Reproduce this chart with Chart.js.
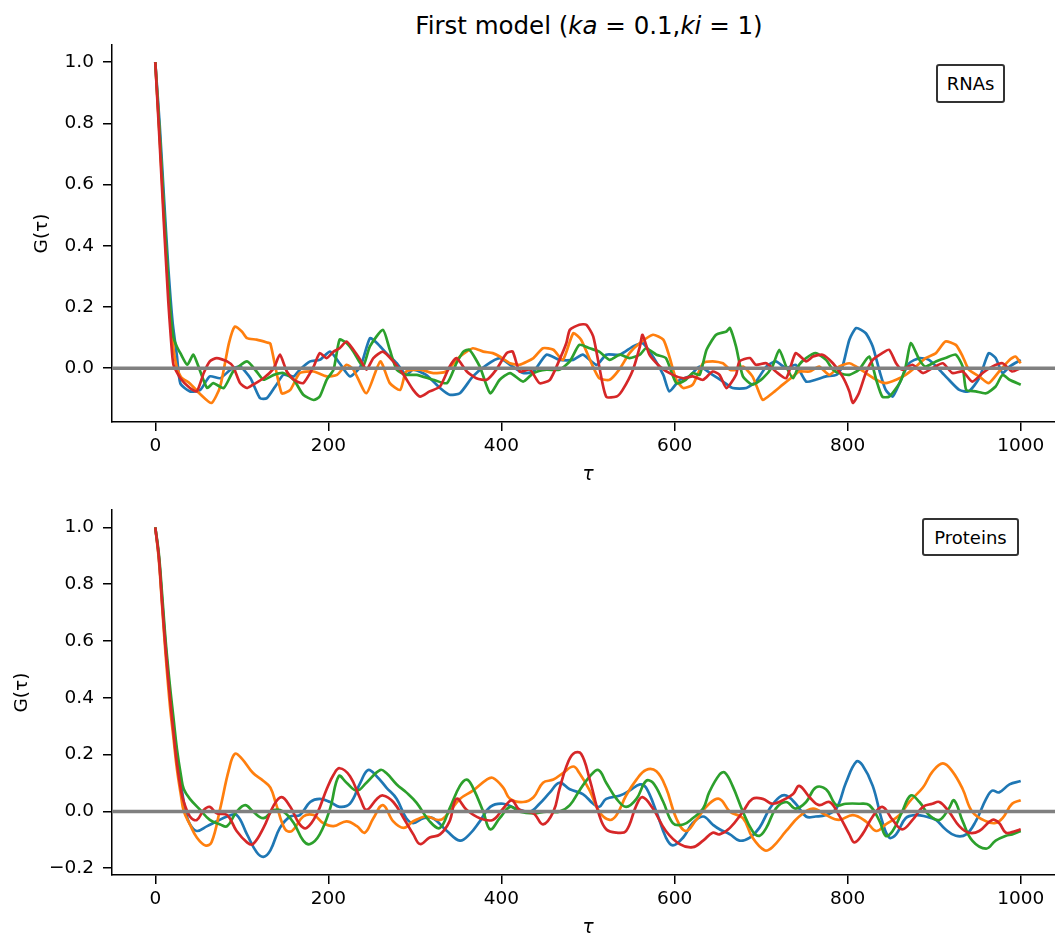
<!DOCTYPE html>
<html><head><meta charset="utf-8">
<script src="https://cdn.jsdelivr.net/npm/chart.js@4.4.1/dist/chart.umd.min.js"></script>
<style>
html,body{margin:0;padding:0;background:#fff;overflow:hidden;}
#wrap{position:relative;width:1055px;height:935px;overflow:hidden;background:#fff;}
canvas{position:absolute;left:0;}
#title{position:absolute;top:11px;left:0;width:1178px;text-align:center;font-family:"DejaVu Sans";font-size:24.5px;color:#000;white-space:nowrap;}
#title i{font-style:italic;}
.leg{position:absolute;box-sizing:border-box;border:2px solid #333;border-radius:3px;background:#fff;font-family:"DejaVu Sans";font-size:18px;color:#000;display:flex;align-items:center;justify-content:center;}
</style></head>
<body><div id="wrap">
<div id="title">First model (<i>ka</i> = 0.1,<i>ki</i> = 1)</div>
<canvas id="c1" width="1080" height="490" style="top:0"></canvas>
<canvas id="c2" width="1080" height="453" style="top:490px"></canvas>
<div class="leg" style="left:936px;top:64px;width:69px;height:39px;">RNAs</div>
<div class="leg" style="left:922px;top:518px;width:97px;height:38px;">Proteins</div>
</div>
<script>
// ---- data: RNAs (top panel) ----
const rnaBlueTau = [0,5,10,15,20,25,29,40,52,63,75,87,98,110,121,129,140,148,160,167,179,190,202,213,225,237,248,256,267,279,290,298,313,329,340,352,367,383,398,410,425,437,452,467,483,494,510,521,537,552,563,575,587,594,606,617,629,644,656,667,683,694,706,717,729,740,752,763,775,787,794,802,810,821,829,837,844,852,860,871,883,894,906,917,929,940,952,963,971,979,987,1000];
const rnaBlue = [1.0,0.8,0.56,0.33,0.15,0.04,-0.05,-0.076,-0.071,-0.027,-0.033,-0.005,0.005,-0.033,-0.098,-0.098,-0.054,-0.022,-0.027,-0.005,0.022,0.027,0.054,0.016,-0.027,0.005,0.098,0.082,0.049,0.016,-0.022,-0.005,-0.022,-0.065,-0.087,-0.082,-0.027,0.011,0.033,0.011,-0.016,-0.011,0.044,0.027,0.027,0.044,0.011,0.044,0.044,0.071,0.082,0.038,-0.022,-0.076,-0.038,-0.027,0.005,-0.022,-0.044,-0.065,-0.065,-0.044,0.005,0.022,0.0,0.011,-0.044,-0.038,-0.027,-0.022,0.005,0.093,0.131,0.114,0.071,-0.011,-0.071,-0.093,-0.049,0.016,0.033,0.027,-0.005,-0.038,-0.071,-0.076,-0.033,0.049,0.033,-0.016,0.005,0.027];
const rnaOrangeTau = [0,5,10,15,20,25,30,40,52,65,75,85,92,100,106,117,129,133,146,156,167,183,198,210,221,229,244,260,271,283,290,306,321,336,352,367,379,390,398,410,421,437,448,460,471,483,492,504,513,525,536,548,560,575,587,594,602,610,621,633,644,656,664,671,679,690,698,702,713,725,737,744,756,767,779,790,802,810,821,833,844,856,867,879,890,902,913,925,933,940,952,963,975,987,994,1000];
const rnaOrange = [1.0,0.76,0.5,0.26,0.09,0.0,-0.03,-0.05,-0.085,-0.114,-0.06,0.08,0.136,0.12,0.098,0.093,0.084,0.08,-0.082,-0.071,-0.016,-0.011,-0.027,-0.022,0.011,-0.005,-0.082,0.022,-0.049,-0.071,-0.011,-0.005,-0.016,-0.011,0.038,0.065,0.054,0.049,0.038,0.016,0.011,0.033,0.065,0.06,0.027,0.114,0.093,0.016,-0.033,-0.038,-0.005,0.049,0.082,0.109,0.093,0.038,-0.038,-0.065,-0.054,0.016,0.022,0.016,-0.005,-0.005,0.005,-0.027,-0.082,-0.104,-0.082,-0.054,-0.027,-0.011,-0.011,0.005,-0.022,0.005,0.016,0.005,-0.016,-0.038,-0.049,-0.038,-0.022,0.005,0.033,0.049,0.087,0.076,0.038,-0.005,-0.027,-0.049,-0.011,0.027,0.038,0.016];
const rnaGreenTau = [0,5,10,15,18,21,25,29,37,44,52,60,67,79,90,106,117,125,137,148,160,171,183,190,198,206,213,221,229,240,248,263,271,279,290,302,321,337,348,356,363,375,387,398,410,425,437,452,467,479,490,502,513,525,537,548,560,567,579,590,602,613,621,629,637,648,660,664,671,679,690,702,713,721,729,737,744,752,763,775,783,790,802,813,825,833,840,848,860,867,873,883,890,902,913,925,933,937,948,960,971,979,987,1000];
const rnaGreen = [1.0,0.77,0.52,0.29,0.17,0.1,0.07,0.049,0.011,0.044,-0.011,-0.065,-0.049,-0.065,-0.011,0.022,-0.011,-0.038,-0.022,-0.016,-0.038,-0.087,-0.104,-0.093,-0.038,-0.005,0.093,0.082,0.054,0.005,0.071,0.125,0.06,-0.005,-0.022,-0.022,-0.038,-0.049,0.016,0.054,0.06,0.005,-0.082,-0.038,-0.016,-0.044,-0.016,-0.005,-0.005,0.022,0.076,0.065,0.054,0.027,0.044,0.033,0.044,0.065,0.044,0.033,-0.049,-0.038,-0.016,-0.022,0.06,0.109,0.12,0.131,0.071,-0.027,-0.054,-0.033,0.005,0.06,0.005,-0.033,0.011,0.033,0.049,0.027,-0.005,-0.016,-0.022,-0.005,0.038,-0.038,-0.093,-0.093,-0.049,0.005,0.082,0.027,0.005,0.022,0.033,0.044,0.005,-0.071,-0.076,-0.082,-0.06,-0.022,-0.038,-0.054];
const rnaRedTau = [0,5,10,15,18,21,29,40,48,56,63,71,83,90,98,106,113,125,137,144,152,160,171,183,190,198,206,213,221,229,237,244,252,263,275,287,298,306,317,329,340,348,360,371,383,394,406,413,421,433,444,456,467,475,479,490,498,506,513,521,533,540,552,560,563,571,583,598,610,621,633,644,652,660,671,675,687,694,706,717,729,740,752,760,771,783,794,802,806,813,821,829,840,848,856,863,875,887,898,910,921,933,944,956,967,979,990,1000];
const rnaRed = [1.0,0.74,0.47,0.22,0.1,0.011,-0.033,-0.065,-0.076,-0.016,0.022,0.033,0.022,0.005,-0.049,-0.065,-0.054,-0.033,0.0,0.044,-0.011,-0.038,-0.049,0.005,0.049,0.033,0.054,0.065,0.087,0.06,0.027,-0.005,0.033,0.054,0.022,-0.022,-0.071,-0.093,-0.076,-0.06,0.005,0.033,-0.011,-0.033,-0.038,-0.005,0.049,0.054,-0.011,-0.005,-0.049,-0.038,0.027,0.082,0.125,0.142,0.142,0.104,0.005,-0.093,-0.093,-0.071,-0.005,0.071,0.109,0.044,0.005,-0.022,-0.033,-0.027,-0.038,-0.011,-0.022,-0.065,-0.022,0.022,0.033,0.011,0.016,-0.011,-0.033,0.049,0.022,0.038,0.044,0.016,-0.027,-0.076,-0.114,-0.082,-0.016,0.027,0.049,0.06,0.016,-0.005,0.011,-0.016,0.0,0.016,-0.016,-0.011,-0.044,-0.016,0.005,0.016,-0.011,0.0];

// ---- data: Proteins (bottom panel) ----
const proBlueTau = [0,4,8,12,17,21,25,30,35,40,48,60,71,83,94,106,117,125,133,144,156,167,179,190,202,213,225,237,246,256,267,279,290,298,310,321,337,352,363,375,387,402,417,433,444,456,467,479,494,506,513,521,537,548,560,567,579,590,598,610,621,633,644,652,664,675,687,698,710,721,729,740,752,763,775,787,798,810,817,829,840,848,856,867,879,890,902,913,925,937,948,960,967,975,987,1000];
const proBlue = [1.0,0.9,0.74,0.58,0.41,0.3,0.2,0.09,0.0,-0.045,-0.069,-0.052,-0.035,-0.018,-0.013,-0.081,-0.143,-0.16,-0.137,-0.058,-0.018,-0.013,0.033,0.044,0.033,0.016,0.027,0.101,0.146,0.123,0.084,0.044,-0.024,-0.041,-0.024,-0.024,-0.069,-0.103,-0.081,-0.035,0.016,0.027,0.01,-0.001,0.027,0.067,0.101,0.078,0.061,0.027,0.016,0.044,0.056,0.073,0.095,0.084,-0.001,-0.092,-0.12,-0.092,-0.041,-0.018,-0.046,-0.063,-0.081,-0.103,-0.092,-0.058,0.01,0.05,0.056,0.027,-0.018,-0.018,-0.013,0.01,0.101,0.175,0.163,0.09,-0.035,-0.092,-0.081,-0.024,-0.013,-0.018,-0.03,-0.063,-0.086,-0.081,-0.035,0.044,0.073,0.067,0.095,0.107];
const proOrangeTau = [0,4,8,12,17,21,25,30,33,40,48,58,65,75,85,92,100,113,125,133,140,150,158,171,183,194,206,221,233,242,252,263,275,287,298,313,329,340,352,367,383,390,402,410,425,437,448,460,471,483,490,502,513,525,533,544,556,567,579,590,602,613,625,640,652,664,679,690,704,713,729,744,760,775,790,806,821,833,844,860,871,887,898,910,921,933,944,960,971,979,990,1000];
const proOrange = [1.0,0.89,0.72,0.55,0.37,0.26,0.15,0.05,0.0,-0.046,-0.092,-0.12,-0.109,0.01,0.146,0.203,0.186,0.135,0.107,0.084,0.022,-0.063,-0.069,-0.018,-0.013,-0.041,-0.052,-0.035,-0.052,-0.075,-0.024,0.022,-0.035,-0.058,-0.035,-0.018,-0.03,-0.001,0.044,0.073,0.112,0.118,0.084,0.044,0.033,0.05,0.101,0.112,0.135,0.158,0.135,0.073,-0.001,-0.03,-0.013,0.056,0.112,0.146,0.141,0.084,-0.024,-0.069,-0.03,0.027,0.044,-0.001,-0.024,-0.092,-0.137,-0.126,-0.069,-0.018,0.01,-0.013,-0.03,-0.013,-0.035,-0.069,-0.046,-0.013,0.033,0.084,0.14,0.169,0.141,0.078,-0.001,-0.035,-0.041,-0.024,0.027,0.039];
const proGreenTau = [0,4,8,12,17,21,25,30,33,40,52,63,75,83,94,104,113,125,137,148,160,171,179,190,202,212,221,233,244,260,267,279,290,302,317,329,340,352,360,367,379,387,398,410,421,437,452,467,479,490,502,512,521,533,544,556,567,575,587,598,610,621,633,640,652,658,667,679,690,698,706,717,729,740,752,763,775,787,798,813,825,837,844,852,863,873,883,894,906,917,923,933,944,960,971,983,990,1000];
const proGreen = [1.0,0.91,0.76,0.6,0.44,0.33,0.22,0.12,0.078,0.044,0.005,-0.03,-0.046,-0.052,-0.001,0.022,-0.001,-0.024,0.005,-0.001,-0.041,-0.103,-0.115,-0.081,0.01,0.124,0.101,0.073,0.101,0.146,0.135,0.095,0.067,0.03,-0.035,-0.058,0.01,0.09,0.112,0.084,-0.001,-0.063,-0.024,0.016,-0.001,-0.007,-0.001,-0.001,0.022,0.073,0.123,0.146,0.101,0.044,0.016,0.044,0.107,0.101,0.033,-0.041,-0.046,-0.024,0.01,0.067,0.13,0.137,0.09,-0.001,-0.069,-0.086,-0.058,0.01,0.033,0.01,0.033,0.084,0.078,0.022,0.027,0.027,0.022,-0.035,-0.086,-0.069,-0.001,0.056,0.033,-0.013,-0.03,0.01,0.039,-0.035,-0.103,-0.131,-0.103,-0.086,-0.081,-0.069];
const proRedTau = [0,4,8,12,17,21,25,30,33,40,48,56,63,71,83,94,106,113,125,137,146,156,167,175,187,198,206,213,225,237,244,256,263,275,287,298,306,317,329,340,348,360,375,390,402,412,421,437,448,460,467,475,483,492,502,513,521,533,544,556,563,575,590,606,621,633,644,652,664,679,690,702,713,725,737,744,756,767,779,790,802,808,817,829,840,852,863,875,887,898,906,917,929,940,952,967,975,983,994,1000];
const proRed = [1.0,0.9,0.73,0.57,0.4,0.28,0.17,0.07,0.033,-0.018,-0.03,0.005,0.016,-0.007,-0.013,-0.069,-0.109,-0.115,-0.058,0.022,0.05,0.016,-0.046,-0.058,-0.007,0.078,0.129,0.152,0.124,0.044,0.005,0.044,0.056,0.033,-0.024,-0.08,-0.115,-0.092,-0.081,-0.035,0.044,0.005,-0.024,-0.03,0.01,0.039,0.005,-0.007,-0.046,-0.001,0.078,0.158,0.203,0.203,0.112,-0.013,-0.063,-0.075,-0.069,0.022,0.05,0.01,-0.069,-0.115,-0.126,-0.103,-0.075,-0.081,-0.058,-0.001,0.044,0.044,0.027,0.039,0.061,0.09,0.05,0.022,0.033,-0.013,-0.081,-0.109,-0.081,-0.018,0.016,-0.03,-0.063,-0.03,0.016,0.027,0.033,-0.001,-0.052,-0.075,-0.069,-0.03,-0.041,-0.075,-0.069,-0.063];

// ---- axes ----
const tauRange = [-50, 1050];
const xTicks = [0, 200, 400, 600, 800, 1000];
const yRangeTop = [-0.176, 1.056];
const yTicksTop = [0.0, 0.2, 0.4, 0.6, 0.8, 1.0];
const yRangeBottom = [-0.224, 1.061];
const yTicksBottom = [-0.2, 0.0, 0.2, 0.4, 0.6, 0.8, 1.0];
const colors = {blue:'#1f77b4', orange:'#ff7f0e', green:'#2ca02c', red:'#d62728', zero:'#808080'};

const pts = (t, v) => t.map((x, i) => ({x: x, y: v[i]}));
const FONT = '"DejaVu Sans"';
const fmt = v => (v < 0 ? '\u2212' : '') + Math.abs(v).toFixed(1);

function build(id, series, yRange, yTicks, padLeft, padTop, yWidth, tension) {
  const ds = [
    {data: pts(tauRange, [0, 0]), borderColor: colors.zero, borderWidth: 3.5, order: 0, tension: 0},
    {data: pts(series[3][0], series[3][1]), borderColor: colors.red, order: 1},
    {data: pts(series[2][0], series[2][1]), borderColor: colors.green, order: 2},
    {data: pts(series[1][0], series[1][1]), borderColor: colors.orange, order: 3},
    {data: pts(series[0][0], series[0][1]), borderColor: colors.blue, order: 4}
  ];
  ds.forEach((d, i) => { d.pointRadius = 0; d.fill = false; if (i > 0) { d.borderWidth = 2.7; d.tension = tension; } });
  const tickFont = {family: FONT, size: 18.5};
  return new Chart(document.getElementById(id), {
    type: 'line',
    data: {datasets: ds},
    options: {
      responsive: false, animation: false, devicePixelRatio: 1,
      layout: {padding: {left: padLeft, top: padTop, right: 16, bottom: 0}},
      plugins: {legend: {display: false}, tooltip: {enabled: false}, title: {display: false}},
      scales: {
        x: {
          type: 'linear', min: tauRange[0], max: tauRange[1],
          afterBuildTicks: s => { s.ticks = xTicks.map(v => ({value: v})); },
          afterFit: s => { s.height = 68; },
          ticks: {font: tickFont, color: '#000', padding: 4, maxRotation: 0, autoSkip: false, callback: v => String(v)},
          grid: {drawOnChartArea: false, drawTicks: true, tickLength: 9, color: '#000', lineWidth: 1.5},
          border: {display: true, color: '#000', width: 1.5},
          title: {display: true, text: '\u03C4', color: '#000', font: {family: FONT, size: 18.5, style: 'italic'}, padding: {top: 4, bottom: 4}}
        },
        y: {
          type: 'linear', min: yRange[0], max: yRange[1],
          afterBuildTicks: s => { s.ticks = yTicks.map(v => ({value: v})); },
          afterFit: s => { s.width = yWidth; },
          ticks: {font: tickFont, color: '#000', padding: 9, callback: fmt},
          grid: {drawOnChartArea: false, drawTicks: true, tickLength: 9, color: '#000', lineWidth: 1.5},
          border: {display: true, color: '#000', width: 1.5},
          title: {display: true, text: 'G(\u03C4)', color: '#000', font: {family: FONT, size: 18.5}, padding: {top: 4, bottom: 4}}
        }
      }
    }
  });
}

build('c1', [[rnaBlueTau, rnaBlue], [rnaOrangeTau, rnaOrange], [rnaGreenTau, rnaGreen], [rnaRedTau, rnaRed]],
      yRangeTop, yTicksTop, 27, 45, 85, 0.2);
build('c2', [[proBlueTau, proBlue], [proOrangeTau, proOrange], [proGreenTau, proGreen], [proRedTau, proRed]],
      yRangeBottom, yTicksBottom, 7, 7, 105, 0.4);
</script>
</body></html>
